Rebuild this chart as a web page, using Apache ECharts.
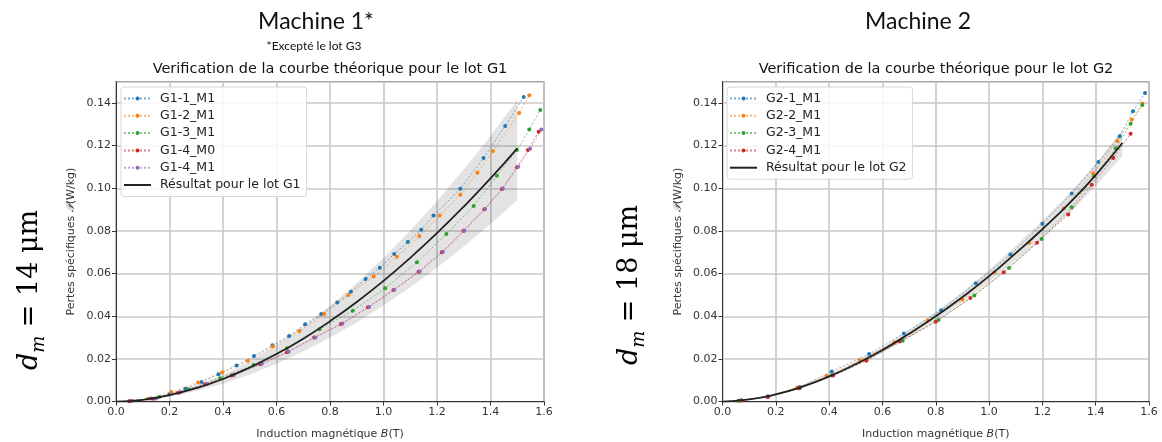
<!DOCTYPE html>
<html><head><meta charset="utf-8">
<script src="https://cdn.jsdelivr.net/npm/echarts@6/dist/echarts.min.js"></script>
<style>html,body{margin:0;padding:0;background:#fff}#c{width:1162px;height:442px}</style>
</head><body><div id="c"></div><script>
// ---- data ----
var X_TICKS = [0.0, 0.2, 0.4, 0.6, 0.8, 1.0, 1.2, 1.4, 1.6];
var Y_TICKS = [0.00, 0.02, 0.04, 0.06, 0.08, 0.10, 0.12, 0.14];
var B_FIT = [0, 0.1, 0.2, 0.3, 0.4, 0.5, 0.6, 0.7, 0.8, 0.9, 1.0, 1.1, 1.2, 1.3, 1.4, 1.5];

// Machine 1, lot G1
var G1_FIT = [0, 0.00085, 0.0030, 0.0063, 0.0106, 0.0160, 0.0223, 0.0295, 0.0377, 0.0467, 0.0566, 0.0674, 0.0790, 0.0914, 0.1046, 0.1187];
var G1_UP  = [0, 0.0010, 0.0036, 0.0075, 0.0126, 0.0190, 0.0265, 0.0351, 0.0449, 0.0556, 0.0674, 0.0802, 0.0940, 0.1088, 0.1245, 0.1413];
var G1_LO  = [0, 0.00068, 0.0024, 0.0050, 0.0084, 0.0127, 0.0177, 0.0235, 0.0300, 0.0371, 0.0450, 0.0536, 0.0628, 0.0727, 0.0832, 0.0944];
var G1_1_M1 = [[0.06,0.0003],[0.13,0.0014],[0.2,0.0035],[0.26,0.006],[0.32,0.0092],[0.383,0.0128],[0.451,0.0169],[0.516,0.0214],[0.585,0.0264],[0.647,0.0308],[0.707,0.0363],[0.767,0.0411],[0.827,0.0464],[0.878,0.0515],[0.933,0.0575],[0.986,0.0627],[1.04,0.0692],[1.091,0.0748],[1.141,0.0805],[1.187,0.0872],[1.287,0.0998],[1.374,0.1142],[1.455,0.1292],[1.524,0.1428]];
var G1_2_M1 = [[0.06,0.0003],[0.12,0.0013],[0.207,0.0045],[0.307,0.0089],[0.397,0.0138],[0.493,0.0191],[0.586,0.0258],[0.686,0.0331],[0.779,0.0411],[0.869,0.05],[0.963,0.0586],[1.05,0.0679],[1.134,0.0776],[1.21,0.0872],[1.287,0.097],[1.351,0.1073],[1.409,0.1175],[1.507,0.1353],[1.545,0.1436]];
var G1_3_M1 = [[0.05,0.0002],[0.162,0.0021],[0.272,0.0058],[0.389,0.011],[0.514,0.0172],[0.639,0.025],[0.761,0.0339],[0.885,0.0426],[1.006,0.0531],[1.125,0.0653],[1.235,0.0786],[1.337,0.0917],[1.424,0.1059],[1.499,0.1179],[1.545,0.1276],[1.586,0.1367]];
var G1_4_M0 = [[0.05,0.0002],[0.14,0.0013],[0.233,0.0042],[0.333,0.0081],[0.433,0.0122],[0.539,0.0175],[0.639,0.0231],[0.741,0.03],[0.841,0.0364],[0.942,0.0442],[1.037,0.0523],[1.131,0.0609],[1.218,0.07],[1.299,0.0801],[1.377,0.0902],[1.443,0.0997],[1.499,0.1098],[1.54,0.1179],[1.58,0.1265]];
var G1_4_M1 = [[0.06,0.0003],[0.15,0.0015],[0.24,0.0044],[0.34,0.0083],[0.44,0.0125],[0.545,0.0177],[0.645,0.0234],[0.745,0.0301],[0.846,0.0366],[0.946,0.0443],[1.04,0.0524],[1.135,0.061],[1.222,0.0702],[1.302,0.0801],[1.38,0.0903],[1.446,0.0999],[1.503,0.1101],[1.548,0.1185],[1.59,0.1275]];

// Machine 2, lot G2
var G2_FIT = [0, 0.0010, 0.0034, 0.0070, 0.0118, 0.0176, 0.0242, 0.0318, 0.0400, 0.0490, 0.0588, 0.0696, 0.0808, 0.0928, 0.1062, 0.1212];
var G2_UP  = [0, 0.00105, 0.0036, 0.0074, 0.0124, 0.0185, 0.0254, 0.0334, 0.0420, 0.0515, 0.0617, 0.0731, 0.0848, 0.0974, 0.1115, 0.1273];
var G2_LO  = [0, 0.00095, 0.0032, 0.0067, 0.0112, 0.0167, 0.0230, 0.0302, 0.0380, 0.0466, 0.0559, 0.0661, 0.0768, 0.0882, 0.1009, 0.1151];
var G2_1_M1 = [[0.07,0.0006],[0.17,0.0025],[0.29,0.0068],[0.41,0.0141],[0.55,0.0223],[0.68,0.0319],[0.82,0.0428],[0.95,0.0555],[1.08,0.0689],[1.2,0.0834],[1.31,0.0975],[1.41,0.1123],[1.49,0.1244],[1.54,0.1361],[1.585,0.1447]];
var G2_2_M1 = [[0.06,0.0004],[0.17,0.0023],[0.28,0.0066],[0.39,0.012],[0.515,0.0195],[0.645,0.0277],[0.77,0.038],[0.9,0.0479],[1.02,0.0606],[1.15,0.0745],[1.28,0.0905],[1.39,0.107],[1.481,0.1222],[1.535,0.1322],[1.575,0.1397]];
var G2_3_M1 = [[0.06,0.0004],[0.17,0.0022],[0.29,0.0063],[0.41,0.0122],[0.54,0.0195],[0.676,0.0285],[0.81,0.0382],[0.945,0.0497],[1.075,0.0626],[1.197,0.0762],[1.31,0.0911],[1.394,0.1056],[1.475,0.1186],[1.531,0.1303],[1.575,0.139]];
var G2_4_M1 = [[0.07,0.0005],[0.17,0.0022],[0.285,0.0063],[0.415,0.0122],[0.54,0.0192],[0.665,0.0282],[0.8,0.0374],[0.93,0.0486],[1.055,0.0606],[1.18,0.0745],[1.297,0.0877],[1.385,0.1017],[1.466,0.1142],[1.531,0.1256]];

// ---- chart ----
var COLORS = ['#1f77b4', '#ff7f0e', '#2ca02c', '#d62728', '#9467bd'];
var FONT = 'DejaVu Sans';
var chart = echarts.init(document.getElementById('c'), null, {renderer: 'canvas'});

function zip(xs, ys) { return xs.map(function (x, i) { return [x, ys[i]]; }); }

function xAxisCfg(idx) {
  return {
    type: 'value', gridIndex: idx, min: X_TICKS[0], max: X_TICKS[X_TICKS.length - 1], interval: 0.2,
    name: 'Induction magnétique {i|B}(T)', nameLocation: 'middle', nameGap: 27,
    nameTextStyle: {fontFamily: FONT, fontSize: 11, color: '#333', rich: {i: {fontFamily: FONT, fontSize: 11, fontStyle: 'italic', color: '#333'}}},
    axisLine: {show: true, onZero: false, lineStyle: {color: '#333', width: 1}},
    axisTick: {show: true, inside: false, length: 4, lineStyle: {color: '#333'}},
    axisLabel: {fontFamily: FONT, fontSize: 11, color: '#333', margin: 5, formatter: function (v) { return v.toFixed(1); }},
    splitLine: {show: true, lineStyle: {color: '#c9c9c9', width: 1.6}}
  };
}
function yAxisCfg(idx) {
  return {
    type: 'value', gridIndex: idx, min: Y_TICKS[0], max: 0.15, interval: 0.02,
    name: 'Pertes spécifiques {i|𝒫}(W/kg)', nameLocation: 'middle', nameGap: 39,
    nameTextStyle: {fontFamily: FONT, fontSize: 11, color: '#333', rich: {i: {fontFamily: FONT, fontSize: 11, fontStyle: 'italic', color: '#333'}}},
    axisLine: {show: true, onZero: false, lineStyle: {color: '#333', width: 1}},
    axisTick: {show: true, inside: false, length: 4, lineStyle: {color: '#333'}},
    axisLabel: {fontFamily: FONT, fontSize: 11, color: '#333', margin: 5, showMaxLabel: false,
      formatter: function (v) { return v.toFixed(2); }},
    splitLine: {show: true, lineStyle: {color: '#c9c9c9', width: 1.6}}
  };
}
function measSeries(name, data, color, idx) {
  return {
    name: name, type: 'line', xAxisIndex: idx, yAxisIndex: idx, data: data, z: 3,
    symbol: 'circle', symbolSize: 4, showSymbol: true,
    itemStyle: {color: color},
    lineStyle: {color: color, width: 1, type: [2, 2], opacity: 0.6},
    emphasis: {disabled: true}, animation: false
  };
}
function fitSeries(name, ys, idx) {
  return {
    name: name, type: 'line', xAxisIndex: idx, yAxisIndex: idx, data: zip(B_FIT, ys), z: 4,
    symbol: 'none', smooth: true, itemStyle: {color: '#222'},
    lineStyle: {color: '#222', width: 1.8}, emphasis: {disabled: true}, animation: false
  };
}
function bandSeries(up, lo, idx) {
  return {
    type: 'custom', xAxisIndex: idx, yAxisIndex: idx, silent: true, z: 1, animation: false,
    data: [[B_FIT[0], lo[0]]],
    renderItem: function (params, api) {
      var pts = [];
      for (var i = 0; i < B_FIT.length; i++) pts.push(api.coord([B_FIT[i], up[i]]));
      for (var j = B_FIT.length - 1; j >= 0; j--) pts.push(api.coord([B_FIT[j], lo[j]]));
      return {type: 'polygon', shape: {points: pts, smooth: 0}, style: {fill: 'rgba(0,0,0,0.11)', stroke: null}};
    }
  };
}
function legendCfg(left, top, names, fitName) {
  var data = names.map(function (n) { return n; });
  data.push({name: fitName, itemStyle: {opacity: 0}});
  return {
    orient: 'vertical', left: left, top: top, data: data,
    itemWidth: 27, itemHeight: 5, itemGap: 4.3,
    padding: [5, 6, 5, 2], borderColor: '#d8d8d8', borderWidth: 1, borderRadius: 3,
    backgroundColor: 'rgba(255,255,255,0.85)',
    textStyle: {fontFamily: FONT, fontSize: 12.5, color: '#222', padding: [0, 0, 0, 4]},
    selectedMode: false
  };
}

var dmLabel = function (x, y, num) {
  return {
    type: 'text', x: x, y: y, rotation: Math.PI / 2,
    style: {
      text: '{d|d}{m|m}{t| = ' + num + ' μm}',
      align: 'center', verticalAlign: 'middle',
      rich: {
        d: {fontFamily: 'DejaVu Serif', fontStyle: 'italic', fontSize: 27, lineHeight: 36, verticalAlign: 'middle', fill: '#000'},
        m: {fontFamily: 'DejaVu Serif', fontStyle: 'italic', fontSize: 18, lineHeight: 18, verticalAlign: 'bottom', fill: '#000'},
        t: {fontFamily: 'DejaVu Serif', fontSize: 27, lineHeight: 36, verticalAlign: 'middle', fill: '#000'}
      }
    }
  };
};
function txt(x, y, s, font) {
  return {type: 'text', x: x, y: y, style: {text: s, font: font, fill: '#111', align: 'center', verticalAlign: 'middle'}};
}

var option = {
  backgroundColor: '#fff',
  animation: false,
  grid: [
    {left: 116, top: 81.6, width: 428, height: 320, show: true, borderColor: '#333', borderWidth: 1, backgroundColor: 'transparent', containLabel: false, outerBoundsMode: 'none'},
    {left: 722.5, top: 81.6, width: 426.5, height: 320, show: true, borderColor: '#333', borderWidth: 1, backgroundColor: 'transparent', containLabel: false, outerBoundsMode: 'none'}
  ],
  xAxis: [xAxisCfg(0), xAxisCfg(1)],
  yAxis: [yAxisCfg(0), yAxisCfg(1)],
  legend: [
    legendCfg(121, 87, ['G1-1_M1', 'G1-2_M1', 'G1-3_M1', 'G1-4_M0', 'G1-4_M1'], 'Résultat pour le lot G1'),
    legendCfg(727, 87, ['G2-1_M1', 'G2-2_M1', 'G2-3_M1', 'G2-4_M1'], 'Résultat pour le lot G2')
  ],
  series: [
    bandSeries(G1_UP, G1_LO, 0),
    measSeries('G1-1_M1', G1_1_M1, COLORS[0], 0),
    measSeries('G1-2_M1', G1_2_M1, COLORS[1], 0),
    measSeries('G1-3_M1', G1_3_M1, COLORS[2], 0),
    measSeries('G1-4_M0', G1_4_M0, COLORS[3], 0),
    measSeries('G1-4_M1', G1_4_M1, COLORS[4], 0),
    fitSeries('Résultat pour le lot G1', G1_FIT, 0),
    bandSeries(G2_UP, G2_LO, 1),
    measSeries('G2-1_M1', G2_1_M1, COLORS[0], 1),
    measSeries('G2-2_M1', G2_2_M1, COLORS[1], 1),
    measSeries('G2-3_M1', G2_3_M1, COLORS[2], 1),
    measSeries('G2-4_M1', G2_4_M1, COLORS[3], 1),
    fitSeries('Résultat pour le lot G2', G2_FIT, 1)
  ],
  graphic: [
    txt(316, 22, 'Machine 1*', '23px Lato'),
    txt(314, 46, '*Excepté le lot G3', '12px Lato'),
    txt(330, 69, 'Verification de la courbe théorique pour le lot G1', '14.5px "DejaVu Sans"'),
    txt(918, 22, 'Machine 2', '23px Lato'),
    txt(936, 69, 'Verification de la courbe théorique pour le lot G2', '14.5px "DejaVu Sans"'),
    dmLabel(30, 290, '14'),
    dmLabel(630, 285, '18')
  ]
};
chart.setOption(option);
</script></body></html>
